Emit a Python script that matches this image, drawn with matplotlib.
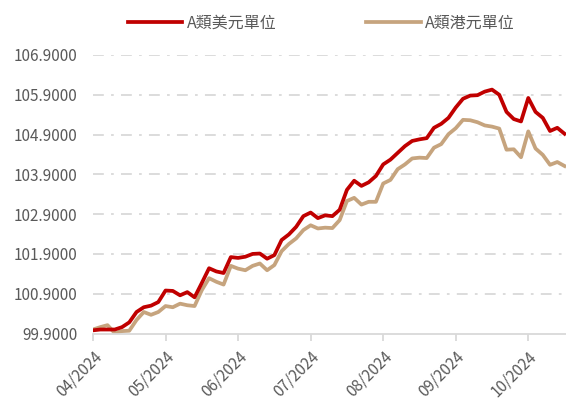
import matplotlib
matplotlib.use("Agg")
import matplotlib.pyplot as plt
import numpy as np

plt.rcParams['font.family'] = ['Noto Sans CJK TC', 'DejaVu Sans']

series_names = ["A類美元單位", "A類港元單位"]
month_labels = ["04/2024", "05/2024", "06/2024", "07/2024", "08/2024", "09/2024", "10/2024"]
points_per_month = 10

usd = [99.98, 100.00, 100.00, 100.00, 100.06, 100.18, 100.44, 100.56, 100.60, 100.69,
       100.98, 100.97, 100.86, 100.94, 100.81, 101.17, 101.54, 101.46, 101.42, 101.82,
       101.80, 101.83, 101.90, 101.91, 101.78, 101.87, 102.25, 102.39, 102.58, 102.85,
       102.94, 102.80, 102.87, 102.85, 103.01, 103.51, 103.74, 103.61, 103.70, 103.86,
       104.15, 104.27, 104.44, 104.61, 104.74, 104.78, 104.81, 105.07, 105.17, 105.32,
       105.58, 105.80, 105.88, 105.89, 105.98, 106.03, 105.90, 105.47, 105.29, 105.23,
       105.82, 105.47, 105.32, 104.99, 105.07, 104.92]

hkd = [100.00, 100.06, 100.11, 99.91, 99.96, 99.97, 100.24, 100.44, 100.37, 100.44,
       100.59, 100.56, 100.65, 100.61, 100.59, 100.99, 101.29, 101.20, 101.13, 101.60,
       101.53, 101.49, 101.60, 101.66, 101.49, 101.62, 101.97, 102.15, 102.29, 102.50,
       102.62, 102.54, 102.56, 102.55, 102.75, 103.23, 103.31, 103.14, 103.21, 103.21,
       103.67, 103.76, 104.03, 104.15, 104.30, 104.32, 104.31, 104.57, 104.66, 104.91,
       105.06, 105.27, 105.26, 105.21, 105.13, 105.10, 105.05, 104.52, 104.53, 104.33,
       104.98, 104.55, 104.39, 104.14, 104.21, 104.11]

y_ticks = [99.9, 100.9, 101.9, 102.9, 103.9, 104.9, 105.9, 106.9]

red = "#C00000"
tan = "#C6A47E"
grid_c = "#D9D9D9"
txt_c = "#595959"

fig = plt.figure(figsize=(5.66, 4.0), dpi=100)
ax = fig.add_axes([93/566, 1-333.5/400, 1-93/566, (333.5-55)/400])

x = np.arange(len(usd))
ax.plot(x, usd, color=red, lw=2.7, label=series_names[0], solid_joinstyle='round', zorder=3)
ax.plot(x, hkd, color=tan, lw=2.7, label=series_names[1], solid_joinstyle='round', zorder=2)

ax.set_xlim(0, 65.2)
ax.set_ylim(99.9, 106.9)
ax.set_yticks(y_ticks)
ax.set_yticklabels([f"{v:.4f}" for v in y_ticks])
for v in y_ticks[1:]:
    ax.axhline(v, color=grid_c, lw=1.3, dashes=(6, 4, 1.5, 4), zorder=1)

ax.set_xticks(np.arange(len(month_labels)) * points_per_month)
ax.set_xticklabels(month_labels, rotation=45, ha='right', va='top', rotation_mode='anchor')

for s in ['top', 'right', 'left']:
    ax.spines[s].set_visible(False)
ax.spines['bottom'].set_color(grid_c)
ax.spines['bottom'].set_linewidth(1.3)
ax.tick_params(axis='y', length=0, pad=11, labelsize=11, labelcolor=txt_c)
ax.tick_params(axis='x', length=5, width=1.3, color=grid_c, pad=5.5, labelsize=11, labelcolor=txt_c)

fig.legend(loc='center', bbox_to_anchor=(321.5/566, 1-23/400), ncol=2, frameon=False,
           handlelength=3.4, handletextpad=0.3, columnspacing=5.6,
           prop={'size': 11.5}, labelcolor=txt_c)

fig.savefig("out.png", dpi=100)
